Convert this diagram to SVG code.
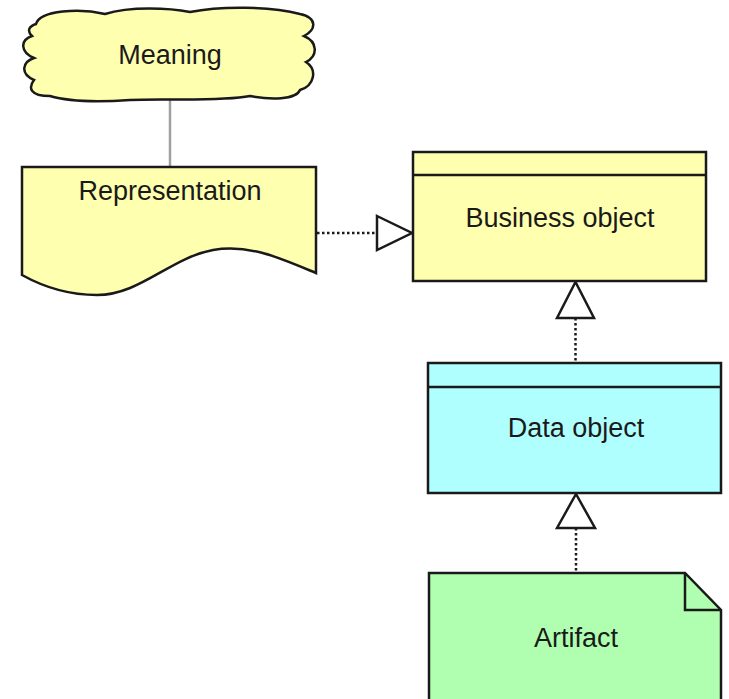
<svg xmlns="http://www.w3.org/2000/svg" width="729" height="699" viewBox="0 0 729 699">
<style>
.shape{stroke:#1a1a1a;stroke-width:2.5;stroke-linejoin:miter}
.biz{fill:#ffffb0}
.app{fill:#b0ffff}
.tech{fill:#b0ffb0}
.lbl{font-family:"Liberation Sans",Arial,sans-serif;font-size:27px;fill:#1a1a1a;text-anchor:middle}
.dot{stroke:#1a1a1a;stroke-width:2.5;stroke-dasharray:2.5 2.5;fill:none}
.head{fill:#ffffff;stroke:#1a1a1a;stroke-width:2.5}
</style>
<rect width="729" height="699" fill="#ffffff"/>
<g id="connectors">
<line x1="170" y1="100" x2="170" y2="167" stroke="#a0a0a0" stroke-width="2.5"/>
<line class="dot" x1="317" y1="233" x2="377" y2="233"/>
<polygon class="head" points="377,216 412,233 377,250"/>
<line class="dot" x1="575.5" y1="318" x2="575.5" y2="362"/>
<polygon class="head" points="557,318 575.5,282 594,318"/>
<line class="dot" x1="576" y1="528" x2="576" y2="572"/>
<polygon class="head" points="557,528 576,494 595,528"/>
</g>
<g id="meaning">
<path class="shape biz" d="M36,24 C40,10 80,8 105,14 C130,6 170,8 190,12 C220,6 270,6 300,14 C318,18 316,30 304,36 C318,42 318,56 306,62 C318,70 314,86 300,90 C296,100 270,100 250,96 C220,102 160,98 130,100 C100,102 70,102 50,96 C30,96 28,88 34,80 C20,74 22,62 34,58 C20,52 20,40 32,36 C26,30 30,26 36,24 Z"/>
<text class="lbl" x="170" y="64">Meaning</text>
</g>
<g id="representation">
<path class="shape biz" d="M22,167 L316,167 L316,273 C280,258 250,244 213,250 C170,258 140,295 97,295 C65,295 40,285 22,275 Z"/>
<text class="lbl" x="170" y="200">Representation</text>
</g>
<g id="business-object">
<rect class="shape biz" x="413" y="152" width="293" height="129"/>
<line class="shape" x1="413" y1="175" x2="706" y2="175"/>
<text class="lbl" x="560" y="227">Business object</text>
</g>
<g id="data-object">
<rect class="shape app" x="428" y="363" width="293" height="130"/>
<line class="shape" x1="428" y1="387" x2="721" y2="387"/>
<text class="lbl" x="576" y="437">Data object</text>
</g>
<g id="artifact">
<path class="shape tech" d="M429,710 L429,573 L685,573 L721,610 L721,710"/>
<path class="shape" fill="none" d="M685,573 L685,610 L721,610"/>
<text class="lbl" x="576" y="647">Artifact</text>
</g>
</svg>
